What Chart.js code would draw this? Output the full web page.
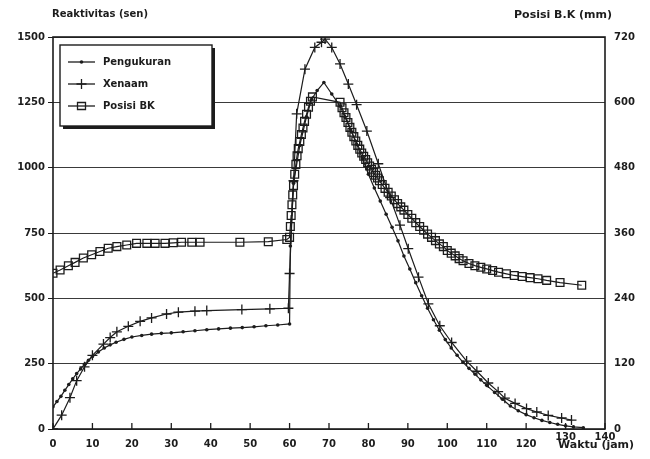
<!DOCTYPE html>
<html>
<head>
<meta charset="utf-8">
<script src="https://cdn.jsdelivr.net/npm/chart.js@4.4.1/dist/chart.umd.min.js"></script>
<style>
  html, body { margin: 0; background: #fff; }
  #wrap { width: 650px; height: 459px; }
</style>
</head>
<body>
<div id="wrap"><canvas id="reaktivitas" width="650" height="459"></canvas></div>
<script>
const INK = "#1c1c1c";

// Waktu (jam) dan reaktivitas (sen) hasil pengukuran
const jamPengukuran = [0, 1, 2, 3, 4, 5, 6, 7, 8, 9, 10, 11.5, 13, 14.5, 16, 18, 20, 22.5, 25, 27.5, 30,
  33, 36, 39, 42, 45, 48, 51, 54, 57, 60,
  60.2, 61, 62.6, 64.3, 65.6, 67, 68.7, 70.7, 72.8,
  74, 75.5, 77, 78.5, 80, 81.5, 83, 84.5, 86, 87.5, 89, 90.5, 92, 93.5, 95, 96.5, 98, 99.5,
  101, 102.5, 104, 105.5, 107, 108.5, 110,
  112, 114, 116, 118, 120, 122, 124, 126, 128, 130, 132, 134.5];
const senPengukuran = [85, 105, 125, 148, 170, 192, 212, 230, 248, 263, 277, 295, 310, 322, 332, 343, 352, 358, 363, 366, 368,
  372, 376, 380, 383, 386, 388, 391, 395, 398, 402,
  700, 940, 1085, 1195, 1262, 1295, 1326, 1282, 1235,
  1195, 1145, 1090, 1035, 975, 922, 872, 822, 772, 720, 662, 612, 560, 510, 462, 418, 378, 342,
  310, 282, 255, 232, 210, 188, 167,
  140, 114, 88, 70, 55, 43, 33, 25, 18, 12, 8, 5];

// Reaktivitas xenon (perhitungan)
const jamXenaam = [0, 2.2, 4.3, 6, 8, 10, 12.8, 14.5, 16.2, 19.1, 22.1, 25, 28.8, 31.8, 36, 39, 47.9, 55, 59.7,
  60, 61, 61.8, 63.9, 66.4, 68.1, 69, 70.7, 72.8, 74.9, 77, 79.6,
  82.5, 85.5, 88, 90.1, 92.7, 95.2, 98.1, 101.1, 104.9, 107.5, 110.4, 112.9, 114.6, 117.2,
  120.1, 122.7, 125.6, 129, 131.5];
const senXenaam = [0, 53, 120, 185, 238, 282, 325, 350, 372, 393, 412, 425, 440, 447, 451, 453, 457, 460, 462,
  595, 950, 1206, 1377, 1460, 1480, 1492, 1460, 1397, 1320, 1241, 1140,
  1015, 885, 780, 690, 581, 479, 395, 331, 260, 221, 176, 143, 118, 98,
  78, 65, 52, 42, 34];

// Posisi batang kendali (mm), sumbu kanan
const jamPosisi = [0, 1.8, 3.9, 5.6, 7.7, 9.8, 11.9, 14, 16.2, 18.7, 21.2, 23.8, 25.9, 28.4, 30.5, 32.6, 35.2, 37.3, 47.4, 54.6, 59.3,
  60, 60.2, 60.4, 60.6, 60.8, 61, 61.3, 61.6, 61.9, 62.2, 62.6, 63, 63.4, 63.8, 64.3, 64.8, 65.3, 65.8,
  72.8, 73.3, 73.8, 74.3, 74.8, 75.3, 75.8, 76.3, 76.8, 77.3, 77.8, 78.3, 78.8, 79.3, 79.8, 80.3, 80.8, 81.3, 81.8, 82.3,
  82.8, 83.5, 84.2, 85, 85.8, 86.6, 87.4, 88.2, 89, 90, 91, 92, 93, 94, 95, 96, 97, 98, 99, 100,
  101, 102, 103, 104, 105.5, 107, 108.5, 110, 111.5, 113, 115, 117, 119, 121, 123, 125.2, 128.6, 134.1];
const mmPosisi = [286, 292, 300, 306, 314, 320, 326, 332, 335, 338, 341, 341, 341, 341, 342, 343, 343, 343, 343, 344, 348,
  352, 372, 392, 412, 430, 447, 468, 486, 502, 515, 528, 541, 553, 565, 578, 591, 602, 610,
  600, 590, 581, 572, 563, 554, 545, 537, 529, 521, 514, 507, 501, 495, 489, 483, 477, 471, 466, 461,
  456, 449, 442, 435, 428, 421, 414, 408, 402, 394, 387, 379, 372, 365, 358, 352, 346, 340, 335, 328,
  323, 318, 313, 309, 304, 300, 297, 294, 291, 288, 285, 282, 280, 278, 276, 273, 269, 264];

const xTicks = [0, 10, 20, 30, 40, 50, 60, 70, 80, 90, 100, 110, 120, 130, 140];
// the last two time labels sit higher, squeezed above the axis title
const raisedXTicks = [130, 140];
const senTicks = [0, 250, 500, 750, 1000, 1250, 1500];
const mmTicks = [0, 120, 240, 360, 480, 600, 720];

const legendLabels = ["Pengukuran", "Xenaam", "Posisi BK"];

const toPoints = (xs, ys) => xs.map((x, i) => ({ x, y: ys[i] }));

Chart.defaults.font.family = "'DejaVu Sans', sans-serif";
Chart.defaults.font.weight = "bold";
Chart.defaults.font.size = 10;
Chart.defaults.color = INK;

// Draws one legend marker by hand
const drawMarker = (ctx, style, x, y) => {
  ctx.beginPath();
  if (style === "circle") {
    ctx.arc(x, y, 1.8, 0, Math.PI * 2);
    ctx.fill();
  } else if (style === "cross") {
    ctx.moveTo(x - 5, y); ctx.lineTo(x + 5, y);
    ctx.moveTo(x, y - 5); ctx.lineTo(x, y + 5);
    ctx.stroke();
  } else {
    ctx.rect(x - 4, y - 3.5, 8, 7);
    ctx.stroke();
  }
};

const frameAndLabels = {
  id: "frameAndLabels",
  afterDraw(chart) {
    const { ctx, chartArea: a, scales } = chart;
    ctx.save();
    ctx.strokeStyle = INK;
    ctx.fillStyle = INK;

    // chart frame
    ctx.lineWidth = 1.6;
    ctx.strokeRect(a.left, a.top, a.right - a.left, a.bottom - a.top);

    // inward ticks on the time axis
    ctx.lineWidth = 1.3;
    ctx.beginPath();
    xTicks.forEach((v) => {
      const px = scales.x.getPixelForValue(v);
      ctx.moveTo(px, a.bottom);
      ctx.lineTo(px, a.bottom - 6);
    });
    ctx.stroke();

    // raised time labels
    ctx.font = "bold 10px 'DejaVu Sans', sans-serif";
    ctx.textAlign = "center";
    ctx.textBaseline = "middle";
    raisedXTicks.forEach((v) => {
      ctx.fillText(String(v), scales.x.getPixelForValue(v), a.bottom + 8);
    });

    // axis titles
    ctx.textBaseline = "alphabetic";
    ctx.textAlign = "left";
    ctx.font = "bold 10px 'DejaVu Sans', sans-serif";
    ctx.fillText("Reaktivitas (sen)", 52, 17);
    ctx.textAlign = "right";
    ctx.font = "bold 11px 'DejaVu Sans', sans-serif";
    ctx.fillText("Posisi B.K (mm)", 612, 18);
    ctx.textAlign = "left";
    ctx.fillText("Waktu (jam)", 558, 448);

    // legend box with drop shadow
    const lx = 60, ly = 45, lw = 152, lh = 81;
    ctx.fillRect(lx + 3, ly + 3, lw, lh);
    ctx.fillStyle = "#fff";
    ctx.fillRect(lx, ly, lw, lh);
    ctx.fillStyle = INK;
    ctx.lineWidth = 1.4;
    ctx.strokeRect(lx, ly, lw, lh);

    const styles = ["circle", "cross", "rect"];
    ctx.font = "bold 10px 'DejaVu Sans', sans-serif";
    ctx.textBaseline = "middle";
    legendLabels.forEach((label, i) => {
      const y = 62 + i * 22;
      ctx.lineWidth = 1.3;
      ctx.beginPath();
      ctx.moveTo(68, y);
      ctx.lineTo(95, y);
      ctx.stroke();
      drawMarker(ctx, styles[i], 81.5, y);
      ctx.fillText(label, 103, y);
    });
    ctx.restore();
  },
};

new Chart(document.getElementById("reaktivitas"), {
  type: "line",
  data: {
    datasets: [
      {
        label: legendLabels[0],
        data: toPoints(jamPengukuran, senPengukuran),
        yAxisID: "y",
        borderColor: INK,
        backgroundColor: INK,
        borderWidth: 1.2,
        pointStyle: "circle",
        pointRadius: 1.8,
        pointBorderWidth: 0,
        tension: 0,
      },
      {
        label: legendLabels[1],
        data: toPoints(jamXenaam, senXenaam),
        yAxisID: "y",
        borderColor: INK,
        backgroundColor: INK,
        borderWidth: 1.2,
        pointStyle: "cross",
        pointRadius: 5,
        pointBorderWidth: 1.3,
        tension: 0,
      },
      {
        label: legendLabels[2],
        data: toPoints(jamPosisi, mmPosisi),
        yAxisID: "y2",
        borderColor: INK,
        backgroundColor: "rgba(255,255,255,0)",
        borderWidth: 1.2,
        pointStyle: "rect",
        pointRadius: 5.5,
        pointBorderWidth: 1.3,
        tension: 0,
      },
    ],
  },
  options: {
    responsive: false,
    animation: false,
    devicePixelRatio: 1,
    layout: { padding: { top: 37, left: 0, right: 0, bottom: 0 } },
    plugins: {
      legend: { display: false },
      tooltip: { enabled: false },
    },
    scales: {
      x: {
        type: "linear",
        min: 0,
        max: 140,
        afterFit: (scale) => { scale.height = 30; },
        afterBuildTicks: (scale) => { scale.ticks = xTicks.map((value) => ({ value })); },
        grid: { display: false, drawTicks: false },
        border: { display: false },
        ticks: {
          padding: 9,
          callback: (v) => (raisedXTicks.includes(v) ? "" : String(v)),
        },
      },
      y: {
        position: "left",
        min: 0,
        max: 1500,
        afterFit: (scale) => { scale.width = 53; },
        afterBuildTicks: (scale) => { scale.ticks = senTicks.map((value) => ({ value })); },
        border: { display: false },
        grid: {
          color: "#3a3a3a",
          lineWidth: 1,
          borderDash: [16, 2, 3, 2],
          tickLength: 5,
          tickColor: INK,
          tickBorderDash: [],
        },
        ticks: { padding: 3, callback: (v) => String(v) },
      },
      y2: {
        position: "right",
        min: 0,
        max: 720,
        afterFit: (scale) => { scale.width = 45; },
        afterBuildTicks: (scale) => { scale.ticks = mmTicks.map((value) => ({ value })); },
        border: { display: false },
        grid: { drawOnChartArea: false, drawTicks: false },
        ticks: { padding: 9, callback: (v) => String(v) },
      },
    },
  },
  plugins: [frameAndLabels],
});
</script>
</body>
</html>
